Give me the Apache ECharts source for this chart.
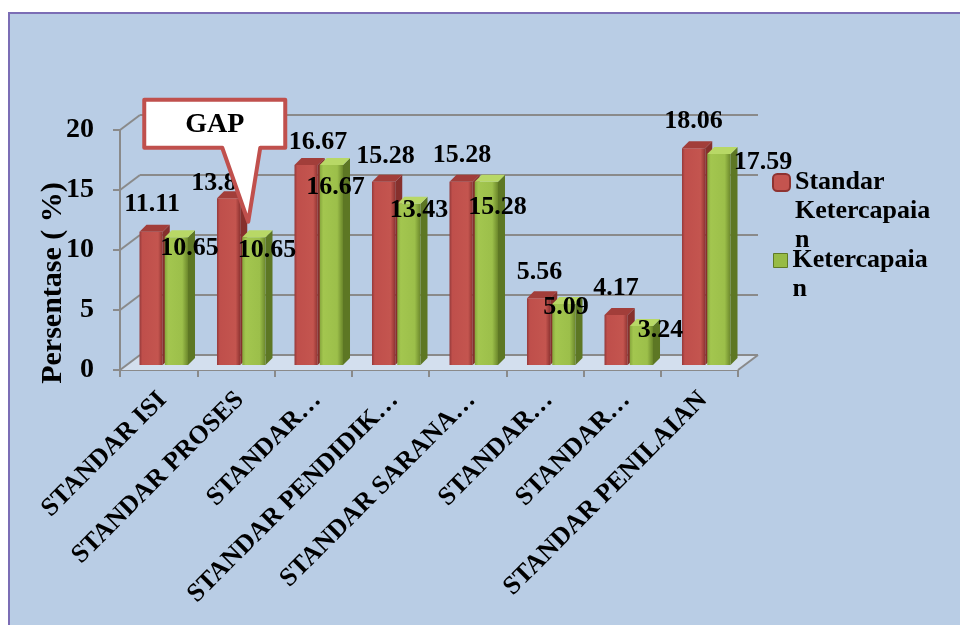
<!DOCTYPE html>
<html>
<head>
<meta charset="utf-8">
<script src="https://cdn.jsdelivr.net/npm/echarts@6/dist/echarts.min.js"></script>
<style>
  html, body { margin: 0; padding: 0; background: #ffffff; }
  #wrap { position: relative; width: 960px; height: 625px; overflow: hidden; }
  #panel { position: absolute; left: 8px; top: 12px; width: 1000px; height: 700px;
           background: #b9cde5; border-left: 2px solid #7b6db5; border-top: 2px solid #7b6db5; }
  #chart { position: absolute; left: 0; top: 0; width: 960px; height: 625px; }
</style>
</head>
<body>
<div id="wrap">
  <div id="panel"></div>
  <div id="chart"></div>
</div>
<script>
// ---- data ----
const categories = [
  'STANDAR ISI',
  'STANDAR PROSES',
  'STANDAR…',
  'STANDAR PENDIDIK…',
  'STANDAR SARANA…',
  'STANDAR…',
  'STANDAR…',
  'STANDAR PENILAIAN'
];
const standarValues      = [11.11, 13.89, 16.67, 15.28, 15.28, 5.56, 4.17, 18.06];
const ketercapaianValues = [10.65, 10.65, 16.67, 13.43, 15.28, 5.09, 3.24, 17.59];
const yTicks = [0, 5, 10, 15, 20];
const seriesNames = ['Standar Ketercapaian', 'Ketercapaian'];
const legendLabels = ['Standar\nKetercapaia\nn', 'Ketercapaia\nn'];
const axisTitle = 'Persentase ( %)';
const calloutText = 'GAP';
const calloutCategory = 1;

// ---- styling ----
const FONT = "'Liberation Serif', 'Times New Roman', serif";
const GRID_COLOR = '#8a8a8a';
const DEPTH_X = 20, DEPTH_Y = -15;   // offset of the back wall
const BAR_DEPTH = 7;

const palettes = [
  { // red
    front: new echarts.graphic.LinearGradient(0, 0, 1, 0, [
      { offset: 0, color: '#94393a' }, { offset: 0.12, color: '#bf4f4b' },
      { offset: 0.8, color: '#c4554f' }, { offset: 1, color: '#8e3331' }
    ]),
    side: '#86302d', top: '#a23e3a',
    // hand-placed value labels: shift from the front-face centre / top edge
    labelDx: [1, -8, 12, 2, 1, 1, 0, 0],
    labelDy: [-27, -15, -23, -25, -26, -26, -27, -27]
  },
  { // green
    front: new echarts.graphic.LinearGradient(0, 0, 1, 0, [
      { offset: 0, color: '#86a63c' }, { offset: 0.15, color: '#a3c64f' },
      { offset: 0.75, color: '#9cbf4a' }, { offset: 1, color: '#6b872b' }
    ]),
    side: '#5d7724', top: '#b8d866',
    labelDx: [13, 13, 4, 10, 11, 2, 19, 44],
    labelDy: [11, 13, 22, 6, 26, 3, 4, 8]
  }
];

function barRenderer(kind) {
  const pal = palettes[kind];
  return function (params, api) {
    const i = api.value(0), v = api.value(1);
    const top = api.coord([i, v]);
    const base = api.coord([i, 0]);
    const band = api.size([1, 0])[0];
    const c = top[0];
    const w = band * 0.30;
    const g = band * 0.013;
    const x0 = kind === 0 ? c - g - w : c + g;
    const x1 = x0 + w;
    const yt = top[1], yb = base[1], d = BAR_DEPTH;
    return {
      type: 'group',
      children: [
        { type: 'polygon', shape: { points: [[x1, yt], [x1 + d, yt - d], [x1 + d, yb - d], [x1, yb]] },
          style: { fill: pal.side } },
        { type: 'rect', shape: { x: x0, y: yt, width: w, height: yb - yt },
          style: { fill: pal.front } },
        { type: 'polygon', shape: { points: [[x0, yt], [x1, yt], [x1 + d, yt - d], [x0 + d, yt - d]] },
          style: { fill: pal.top } },
        { type: 'text', x: (x0 + x1) / 2 + pal.labelDx[i], y: yt + pal.labelDy[i], z2: 50,
          style: { text: v.toFixed(2), align: 'center', verticalAlign: 'middle',
                   font: 'bold 26px ' + FONT, fill: '#000' } }
      ]
    };
  };
}

// back wall gridlines, connecting diagonals and floor
function frameRenderer(params, api) {
  const v = api.value(1);
  const p = api.coord([0, v]);
  const band = api.size([1, 0])[0];
  const xL = p[0] - band / 2;
  const xR = api.coord([categories.length - 1, v])[0] + band / 2;
  const y = p[1];
  const line = { stroke: GRID_COLOR, lineWidth: 2 };
  const children = [];
  if (v === 0) {
    children.push({ type: 'polygon',
      shape: { points: [[xL, y], [xR, y], [xR + DEPTH_X, y + DEPTH_Y], [xL + DEPTH_X, y + DEPTH_Y]] },
      style: { fill: '#d3dfee' } });
    children.push({ type: 'line', shape: { x1: xR, y1: y, x2: xR + DEPTH_X, y2: y + DEPTH_Y }, style: line });
  }
  children.push({ type: 'line', shape: { x1: xL, y1: y, x2: xL + DEPTH_X, y2: y + DEPTH_Y }, style: line });
  children.push({ type: 'line', shape: { x1: xL + DEPTH_X, y1: y + DEPTH_Y, x2: xR + DEPTH_X, y2: y + DEPTH_Y }, style: line });
  return { type: 'group', children };
}

// speech-bubble note pointing at the gap between the two bars
function calloutRenderer(params, api) {
  const p = api.coord([api.value(0), api.value(1)]);
  const tx = p[0] + 7, ty = p[1] + 4;
  const L = tx - 104, R = tx + 37, T = ty - 122, B = ty - 74;
  return {
    type: 'group',
    children: [
      { type: 'polygon',
        shape: { points: [[L, T], [R, T], [R, B], [tx + 12, B], [tx, ty], [tx - 26, B], [L, B]] },
        style: { fill: '#ffffff', stroke: '#c0504d', lineWidth: 4, lineJoin: 'round' } },
      { type: 'text', x: (L + R) / 2, y: (T + B) / 2 + 1,
        style: { text: calloutText, align: 'center', verticalAlign: 'middle',
                 font: 'bold 28px ' + FONT, fill: '#000' } }
    ]
  };
}

// legend text: the marker sits beside the first line, so pad with empty lines above
function legendText(label) {
  const lines = label.split('\n').length;
  return '\n'.repeat(lines - 1) + label;
}

const chart = echarts.init(document.getElementById('chart'), null, { renderer: 'canvas' });

const legendTextStyle = { fontFamily: FONT, fontWeight: 'bold', fontSize: 26, color: '#000', lineHeight: 29 };
const option = {
  backgroundColor: 'transparent',
  animation: false,
  grid: [
    { left: 120, top: 130, width: 618, height: 240 },   // front axes
    { left: 125, top: 125, width: 620, height: 240 },   // bars
    { left: 124, top: 130, width: 618, height: 240 }    // category labels
  ],
  xAxis: [
    { gridIndex: 0, type: 'category', data: categories, boundaryGap: true,
      axisLine: { lineStyle: { color: GRID_COLOR, width: 2 } },
      axisTick: { show: true, length: 7, interval: 0, lineStyle: { color: GRID_COLOR, width: 2 } },
      axisLabel: { show: false }, splitLine: { show: false } },
    { gridIndex: 1, type: 'category', data: categories, boundaryGap: true, show: false },
    { gridIndex: 2, type: 'category', data: categories, boundaryGap: true,
      axisLine: { show: false }, axisTick: { show: false }, splitLine: { show: false },
      axisLabel: { show: true, interval: 0, rotate: 45, margin: 26,
                   fontFamily: FONT, fontWeight: 'bold', fontSize: 26, color: '#000' } }
  ],
  yAxis: [
    { gridIndex: 0, type: 'value', min: 0, max: 20, interval: 5,
      name: axisTitle, nameLocation: 'middle', nameGap: 52, nameRotate: 90, nameMoveOverlap: false,
      nameTextStyle: { fontFamily: FONT, fontWeight: 'bold', fontSize: 30, color: '#000', padding: [0, 66, 0, 0] },
      axisLine: { show: true, lineStyle: { color: GRID_COLOR, width: 2 } },
      axisTick: { show: true, length: 7, lineStyle: { color: GRID_COLOR, width: 2 } },
      axisLabel: { margin: 26, fontFamily: FONT, fontWeight: 'bold', fontSize: 28, color: '#000' },
      splitLine: { show: false } },
    { gridIndex: 1, type: 'value', min: 0, max: 20, interval: 5, show: false, splitLine: { show: false } },
    { gridIndex: 2, type: 'value', min: 0, max: 20, interval: 5, show: false, splitLine: { show: false } }
  ],
  legend: [
    { data: [{ name: seriesNames[0], icon: 'roundRect',
               itemStyle: { color: '#c4544f', borderColor: '#8e3331', borderWidth: 2 } }],
      orient: 'vertical', left: 772, top: 110, padding: 0, selectedMode: false,
      itemWidth: 17, itemHeight: 17,
      formatter: () => legendText(legendLabels[0]),
      textStyle: legendTextStyle },
    { data: [{ name: seriesNames[1], icon: 'rect',
               itemStyle: { color: '#97bb45', borderColor: '#5f7a26', borderWidth: 1 } }],
      orient: 'vertical', left: 773, top: 217, padding: 0, selectedMode: false,
      itemWidth: 14, itemHeight: 14,
      formatter: () => legendText(legendLabels[1]),
      textStyle: legendTextStyle }
  ],
  series: [
    { name: 'frame', type: 'custom', xAxisIndex: 0, yAxisIndex: 0, z: 1, silent: true,
      renderItem: frameRenderer, data: yTicks.map(t => [0, t]) },
    { name: seriesNames[0], type: 'custom', xAxisIndex: 1, yAxisIndex: 1, z: 3, silent: true,
      itemStyle: { color: '#c0504d' }, renderItem: barRenderer(0),
      data: standarValues.map((v, i) => [i, v]) },
    { name: seriesNames[1], type: 'custom', xAxisIndex: 1, yAxisIndex: 1, z: 4, silent: true,
      itemStyle: { color: '#9bbb59' }, renderItem: barRenderer(1),
      data: ketercapaianValues.map((v, i) => [i, v]) },
    { name: 'note', type: 'custom', xAxisIndex: 1, yAxisIndex: 1, z: 10, silent: true,
      renderItem: calloutRenderer,
      data: [[calloutCategory, (standarValues[calloutCategory] + ketercapaianValues[calloutCategory]) / 2]] }
  ]
};
chart.setOption(option);
</script>
</body>
</html>
